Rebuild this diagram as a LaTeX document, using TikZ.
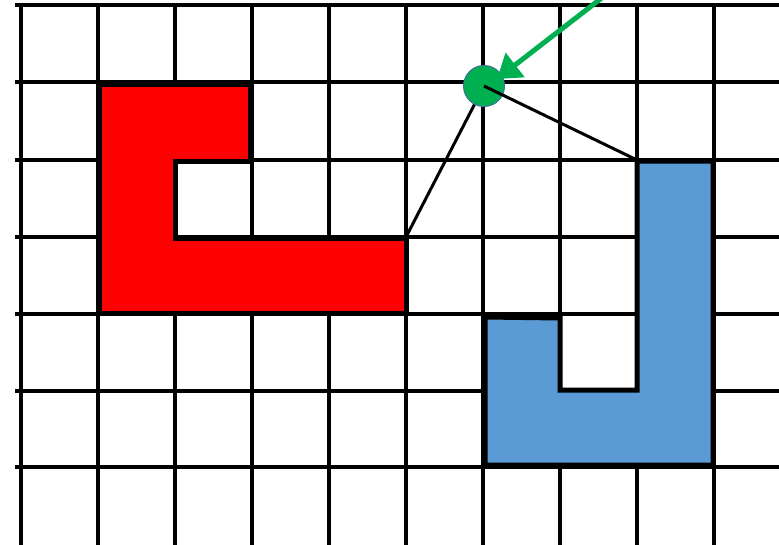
\documentclass[tikz,border=0pt]{standalone}
\usetikzlibrary{arrows.meta}
\definecolor{shapered}{RGB}{255,0,0}
\definecolor{shapeblue}{RGB}{91,155,213}
\definecolor{dotgreen}{RGB}{0,176,80}
\definecolor{dotedge}{RGB}{65,113,156}
\tikzset{
  gridline/.style={black, line width=3.6pt},
  shapeedge/.style={draw=black, line width=5pt, line join=miter},
  linkline/.style={black, line width=3pt},
  pointer/.style={dotgreen, line width=5pt, -{Triangle[length=23pt,width=30pt]}},
  greendot/.style={circle, fill=dotgreen, draw=dotedge, line width=1pt, minimum size=41pt, inner sep=0pt}
}
\begin{document}
\begin{tikzpicture}[x=1pt,y=-1pt]
\useasboundingbox (0,0) rectangle (779,544);
\clip (0,0) rectangle (779,544);
\fill[white] (0,0) rectangle (779,544);
% grid
\foreach \c in {21,98,175,252,329,406,483,560,637,714}
  \draw[gridline] (\c,4) -- (\c,546);
\foreach \r in {5,82,160,237,314,391,467}
  \draw[gridline] (15,\r) -- (781,\r);
% red shape
\filldraw[fill=shapered, shapeedge] (99,84) -- (250,84) -- (250,161) -- (175,161) -- (175,238) -- (406,238) -- (406,313) -- (99,313) -- cycle;
% blue shape
\filldraw[fill=shapeblue, shapeedge] (637,161) -- (713,161) -- (713,465) -- (485,465) -- (485,317) -- (560,318) -- (560,390) -- (637,390) -- cycle;
% points
\coordinate (redc) at (406,237);
\coordinate (bluec) at (637,160);
\coordinate (dc) at (484,86);
\coordinate (astart) at (612,-10);
\coordinate (atip) at (497,79);
\draw[linkline] (dc) -- (redc);
\node[greendot] (dot) at (dc) {};
\draw[linkline] (dot.center) -- (bluec);
\draw[pointer] (astart) -- (atip);
\end{tikzpicture}
\end{document}
